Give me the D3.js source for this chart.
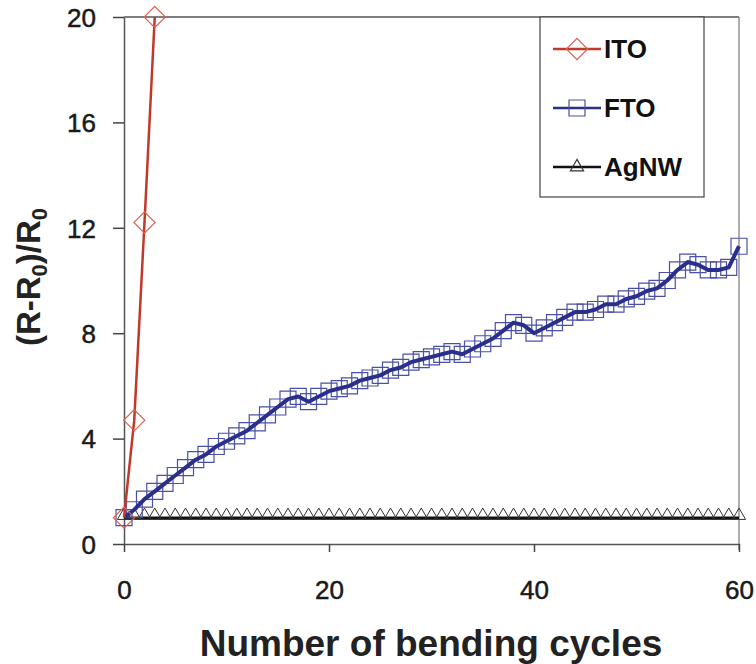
<!DOCTYPE html>
<html>
<head>
<meta charset="UTF-8">
<title>Bending test</title>
<style>
  body { margin: 0; background: #fff; }
  svg text { font-family: "Liberation Sans", Arial, sans-serif; }
</style>
</head>
<body>
<svg id="chart"></svg>
<script src="https://cdn.jsdelivr.net/npm/d3@7/dist/d3.min.js"></script>
<script>
// bending cycles (x)
var cycles = [0,1,2,3,4,5,6,7,8,9,10,11,12,13,14,15,16,17,18,19,20,
  21,22,23,24,25,26,27,28,29,30,31,32,33,34,35,36,37,38,39,40,
  41,42,43,44,45,46,47,48,49,50,51,52,53,54,55,56,57,58,59,60];

// ITO, only 4 points before it runs off the top
var itoCycles = [0, 1, 2, 3];
var itoValues = [1.0, 4.7, 12.2, 20.0];

// FTO
var ftoValues = [1.0,1.3,1.7,2.0,2.3,2.6,2.9,3.2,3.4,3.7,3.9,4.1,4.3,4.6,4.9,5.2,5.5,5.6,5.4,5.6,5.8,
  5.9,6.0,6.2,6.3,6.4,6.6,6.7,6.9,7.0,7.1,7.2,7.3,7.2,7.4,7.6,7.8,8.1,8.4,8.3,8.0,
  8.2,8.4,8.6,8.8,8.8,8.9,9.1,9.1,9.3,9.4,9.6,9.7,10.0,10.4,10.7,10.6,10.4,10.4,10.5,11.3];

// AgNW stays flat
var agnwValues = [1.0,1.0,1.0,1.0,1.0,1.0,1.0,1.0,1.0,1.0,1.0,1.0,1.0,1.0,1.0,1.0,1.0,1.0,1.0,1.0,1.0,
  1.0,1.0,1.0,1.0,1.0,1.0,1.0,1.0,1.0,1.0,1.0,1.0,1.0,1.0,1.0,1.0,1.0,1.0,1.0,1.0,
  1.0,1.0,1.0,1.0,1.0,1.0,1.0,1.0,1.0,1.0,1.0,1.0,1.0,1.0,1.0,1.0,1.0,1.0,1.0,1.0];

var xTicks = [0, 20, 40, 60];
var yTicks = [0, 4, 8, 12, 16, 20];
var legendNames = ["ITO", "FTO", "AgNW"];

var W = 756, H = 664;
var margin = {top: 17, right: 17, bottom: 120, left: 124};
var width = W - margin.left - margin.right,
    height = H - margin.top - margin.bottom;

var svg = d3.select("#chart").attr("width", W).attr("height", H);
var g = svg.append("g").attr("transform", "translate(" + margin.left + "," + margin.top + ")");

var x = d3.scaleLinear().domain([0, 60]).range([0, width]);
var y = d3.scaleLinear().domain([0, 20]).range([height, 0]);

// frame top / right
g.append("line").attr("x1", 0).attr("x2", width).attr("y1", 0).attr("y2", 0)
  .attr("stroke", "#555").attr("stroke-width", 1.5);
g.append("line").attr("x1", width).attr("x2", width).attr("y1", 0).attr("y2", height + 6)
  .attr("stroke", "#777").attr("stroke-width", 1.2);

// axes
var xAxis = g.append("g").attr("transform", "translate(0," + height + ")")
  .call(d3.axisBottom(x).tickValues(xTicks).tickSize(8).tickSizeOuter(0).tickPadding(29));
var yAxis = g.append("g")
  .call(d3.axisLeft(y).tickValues(yTicks).tickSize(11).tickSizeOuter(0).tickPadding(17));
[xAxis, yAxis].forEach(function(a) {
  a.select(".domain").attr("stroke", "#555").attr("stroke-width", 1.5);
  a.selectAll(".tick line").attr("stroke", "#444").attr("stroke-width", 1.5);
  a.selectAll("text").attr("font-size", 26).attr("fill", "#1a1a1a")
    .attr("stroke", "#1a1a1a").attr("stroke-width", 0.5)
    .style("font-family", "'Liberation Sans', Arial, sans-serif");
});
yAxis.selectAll("text").attr("dy", "0.36em");

var line = d3.line()
  .x(function(d) { return x(d[0]); })
  .y(function(d) { return y(d[1]); });

var ito = itoCycles.map(function(c, i) { return [c, itoValues[i]]; });
var fto = cycles.map(function(c, i) { return [c, ftoValues[i]]; });
var agnw = cycles.map(function(c, i) { return [c, agnwValues[i]]; });

var sq = d3.symbol().type(d3.symbolSquare).size(16 * 16);
var dia = d3.symbol().type(d3.symbolSquare).size(15 * 15);
var tri = d3.symbol().type(d3.symbolTriangle).size(75);

// AgNW
g.append("path").datum(agnw).attr("d", line)
  .attr("fill", "none").attr("stroke", "#111").attr("stroke-width", 2.5);
g.selectAll(".tri").data(agnw).enter().append("path")
  .attr("d", tri)
  .attr("transform", function(d) { return "translate(" + x(d[0]) + "," + (y(d[1]) - 2) + ")"; })
  .attr("fill", "none").attr("stroke", "#333").attr("stroke-width", 1);

// FTO
g.selectAll(".sq").data(fto).enter().append("path")
  .attr("d", sq)
  .attr("transform", function(d) { return "translate(" + x(d[0]) + "," + y(d[1]) + ")"; })
  .attr("fill", "none").attr("stroke", "#4a50a8").attr("stroke-width", 1.2);
g.append("path").datum(fto).attr("d", line)
  .attr("fill", "none").attr("stroke", "#2b2f8c").attr("stroke-width", 4)
  .attr("stroke-linejoin", "round");

// ITO
g.append("path").datum(ito).attr("d", line)
  .attr("fill", "none").attr("stroke", "#c0392b").attr("stroke-width", 2.5);
g.selectAll(".dia").data(ito).enter().append("path")
  .attr("d", dia)
  .attr("transform", function(d) { return "translate(" + x(d[0]) + "," + y(d[1]) + ") rotate(45)"; })
  .attr("fill", "none").attr("stroke", "#d9644f").attr("stroke-width", 1.2);

// legend
var lg = svg.append("g");
lg.append("rect").attr("x", 540).attr("y", 17).attr("width", 164).attr("height", 180)
  .attr("fill", "#fff").attr("stroke", "#444").attr("stroke-width", 1.2);
var legendRows = [
  {name: legendNames[0], y: 49, color: "#c0392b", mcolor: "#d9644f", sym: dia, rot: 45},
  {name: legendNames[1], y: 108, color: "#2b2f8c", mcolor: "#4a50a8", sym: sq, rot: 0},
  {name: legendNames[2], y: 167, color: "#111", mcolor: "#333", sym: tri, rot: 0}
];
legendRows.forEach(function(r) {
  lg.append("line").attr("x1", 553).attr("x2", 601).attr("y1", r.y).attr("y2", r.y)
    .attr("stroke", r.color).attr("stroke-width", 2.5);
  lg.append("path").attr("d", r.sym)
    .attr("transform", "translate(577," + r.y + ") rotate(" + r.rot + ")")
    .attr("fill", "none").attr("stroke", r.mcolor).attr("stroke-width", 1.2);
  lg.append("text").attr("x", 604).attr("y", r.y + 9)
    .attr("font-size", 26).attr("font-weight", "bold").attr("fill", "#111")
    .text(r.name);
});

// axis titles
svg.append("text")
  .attr("x", 431).attr("y", 656)
  .attr("text-anchor", "middle").attr("font-size", 37).attr("font-weight", "bold").attr("fill", "#222")
  .text("Number of bending cycles");

var yt = svg.append("text")
  .attr("transform", "translate(40,277) rotate(-90)")
  .attr("text-anchor", "middle").attr("font-size", 33).attr("font-weight", "bold").attr("fill", "#222");
yt.append("tspan").text("(R-R");
yt.append("tspan").attr("font-size", 22).attr("dy", 7).text("0");
yt.append("tspan").attr("dy", -7).text(")/R");
yt.append("tspan").attr("font-size", 22).attr("dy", 7).text("0");
</script>
</body>
</html>
